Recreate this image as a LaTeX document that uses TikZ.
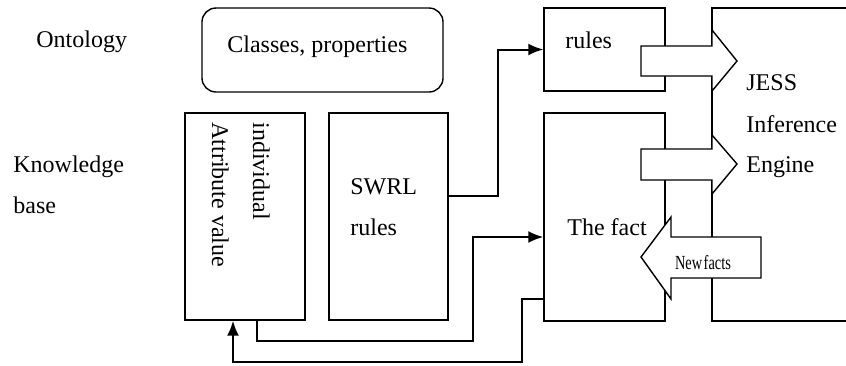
\documentclass[tikz,border=0pt]{standalone}
\usepackage{fontspec}
\setmainfont{Liberation Serif}
\usepackage{tikz}
\usetikzlibrary{arrows.meta}

\tikzset{
	box/.style={draw, line width=0.7pt, inner sep=0pt},
	txt/.style={inner sep=0pt, anchor=base west, font=\fontsize{12}{14}\selectfont},
	conn/.style={line width=1pt, -{Latex[length=7.5pt,width=6pt]}},
	blockarrow/.style={draw, fill=white, line width=0.7pt},
}

\begin{document}
\begin{tikzpicture}[x=0.5pt,y=-0.5pt]
		\useasboundingbox (0,0) rectangle (846,365);

		% Kaesten
		\node[box, rounded corners=7pt, minimum width=120.5pt, minimum height=42pt] (classes) at (322.5,50) {};
		\node[box, minimum width=60pt, minimum height=103.5pt] (indiv) at (245,216.5) {};
		\node[box, minimum width=59.5pt, minimum height=103.5pt] (swrl) at (388.5,216.5) {};
		\node[box, minimum width=60.5pt, minimum height=41.5pt] (rules) at (604.5,49.5) {};
		\node[box, minimum width=60.5pt, minimum height=104pt] (fact) at (604.5,217) {};
		\draw[line width=0.7pt] (846,8) -- (712,8) -- (712,321) -- (846,321);

		% Texte
		\node[txt] (onto) at (36,47) {Ontology};
		\node[txt] (kb1) at (13,172) {Knowledge};
		\node[txt] (kb2) at (13,213) {base};
		\node[txt] (classtxt) at (227,52) {Classes, properties};
		\node[txt, rotate=-90] (indivtxt) at (253,122) {individual};
		\node[txt, rotate=-90] (attrtxt) at (212,122) {Attribute value};
		\node[txt] (swrltxt) at (350,194) {SWRL};
		\node[txt] (swrltxt2) at (350,235) {rules};
		\node[txt] (rulestxt) at (565,48) {rules};
		\node[txt] (facttxt) at (567,235) {The fact};
		\node[txt] (jess1) at (746,90) {JESS};
		\node[txt] (jess2) at (746,132) {Inference};
		\node[txt] (jess3) at (746,172) {Engine};

		% Blockpfeile
		\draw[blockarrow] (641,46) -- (712,46) -- (712,30) -- (737,61) -- (712,91) -- (712,76) -- (641,76) -- cycle;
		\draw[blockarrow] (641,149) -- (712,149) -- (712,135) -- (737,164) -- (712,194) -- (712,180) -- (641,180) -- cycle;
		\draw[blockarrow] (761,237) -- (671,237) -- (671,217) -- (641,257) -- (671,299) -- (671,278) -- (761,278) -- cycle;
		\node[inner sep=0pt, xscale=0.72, font=\fontsize{10}{12}\selectfont] (newfacts) at (703,263) {New\hspace{1pt}facts};

		% Verbindungen
		\draw[conn] ([yshift=10.25pt]swrl.east) -- ++(49,0) |- (rules.west);
		\draw[conn] ([xshift=6pt]indiv.south) |- (473,341) |- ([yshift=-10pt]fact.west);
		\draw[conn] ([yshift=-41pt]fact.west) -| (522,362) -| ([xshift=-6pt]indiv.south);
	\end{tikzpicture}
\end{document}
